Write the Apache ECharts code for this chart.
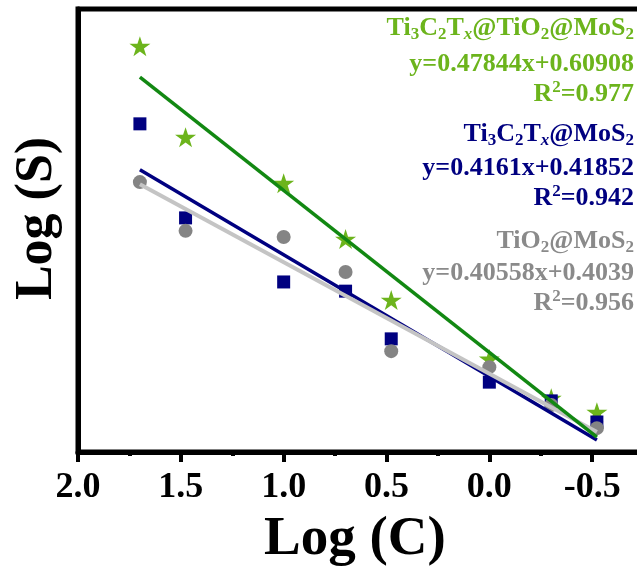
<!DOCTYPE html>
<html>
<head>
<meta charset="utf-8">
<script src="https://cdn.jsdelivr.net/npm/echarts@6/dist/echarts.min.js"></script>
<style>
html,body{margin:0;padding:0;background:#fff;}
#chart{width:637px;height:569px;}
</style>
</head>
<body>
<div id="chart"></div>
<script>
// Log(C) positions of the measured concentrations
const logC = [1.699, 1.477, 1.0, 0.699, 0.477, 0.0, -0.301, -0.523];
// Log(S) values
const tmmS = [1.491, 1.224, 1.089, 0.925, 0.746, 0.573, 0.458, 0.417]; // Ti3C2Tx@TiO2@MoS2
const tmS  = [1.263, 0.987, 0.799, 0.772, 0.632, 0.505, 0.450, 0.388]; // Ti3C2Tx@MoS2
const tS   = [1.092, 0.949, 0.931, 0.828, 0.596, 0.549, 0.438, 0.370]; // TiO2@MoS2
// Fitted line end points
const fitX   = [1.699, -0.523];
const tmmFit = [1.400, 0.344];
const tmFit  = [1.128, 0.335];
const tFit   = [1.086, 0.359];
// Tick labels
const xTickLabels = ['2.0', '1.5', '1.0', '0.5', '0.0', '-0.5', '-1.0'];
// Annotation texts
const tmmText = ['{m|Ti}{s|3}{m|C}{s|2}{m|T}{si|x}{m|@TiO}{s|2}{m|@MoS}{s|2}', '{m|y=0.47844x+0.60908}', '{m|R}{p|2}{m|=0.977}'];
const tmText  = ['{m|Ti}{s|3}{m|C}{s|2}{m|T}{si|x}{m|@MoS}{s|2}', '{m|y=0.4161x+0.41852}', '{m|R}{p|2}{m|=0.942}'];
const tText   = ['{m|TiO}{s|2}{m|@MoS}{s|2}', '{m|y=0.40558x+0.4039}', '{m|R}{p|2}{m|=0.956}'];

const SERIF = '"Liberation Serif", "Times New Roman", serif';
const cGreenPt = '#6cb41c', cGreenLn = '#128812';
const cBlue = '#000080', cGrayPt = '#848484', cGrayLn = '#c4c4c4', cGrayTxt = '#8a8a8a';
const STAR = 'path://M50,0 L61.2,34.5 L97.6,34.5 L68.2,55.9 L79.4,90.5 L50,69.1 L20.6,90.5 L31.8,55.9 L2.4,34.5 L38.8,34.5 Z';

function rich(color) {
  const base = {fill: color, fontFamily: SERIF, fontWeight: 'bold'};
  return {
    m: Object.assign({fontSize: 26, lineHeight: 30}, base),
    s: Object.assign({fontSize: 17, lineHeight: 18, verticalAlign: 'bottom'}, base),
    si: Object.assign({fontSize: 17, lineHeight: 18, verticalAlign: 'bottom', fontStyle: 'italic'}, base),
    p: Object.assign({fontSize: 17, lineHeight: 18, verticalAlign: 'top'}, base)
  };
}
function txt(text, y, color) {
  return {type: 'text', x: 634, y: y, z: 100,
    style: {text: text, rich: rich(color), align: 'right', verticalAlign: 'middle', fill: color,
      fontFamily: SERIF, fontWeight: 'bold', fontSize: 26}};
}
const textYs = [[28, 64, 94], [134, 168, 198], [241, 273, 303]];
const graphics = [];
tmmText.forEach((t, i) => graphics.push(txt(t, textYs[0][i], cGreenPt)));
tmText.forEach((t, i) => graphics.push(txt(t, textYs[1][i], cBlue)));
tText.forEach((t, i) => graphics.push(txt(t, textYs[2][i], cGrayTxt)));

const pairs = (xs, ys) => xs.map((x, i) => [x, ys[i]]);

const chart = echarts.init(document.getElementById('chart'), null, {renderer: 'canvas'});
chart.setOption({
  animation: false,
  backgroundColor: '#fff',
  grid: {left: 78, right: -58, top: 9, bottom: 117, containLabel: false, outerBoundsMode: 'none',
    show: true, borderColor: '#000', borderWidth: 5},
  xAxis: {
    type: 'value', inverse: true, min: -1.0, max: 2.0, interval: 0.5,
    name: 'Log (C)', nameLocation: 'middle', nameGap: 60, nameMoveOverlap: false,
    nameTextStyle: {fontFamily: SERIF, fontWeight: 'bold', fontSize: 55, color: '#000', padding: [0, 63, 0, 0]},
    axisLine: {show: true, onZero: false, lineStyle: {color: '#000', width: 5}},
    axisTick: {show: true, inside: false, length: 10, lineStyle: {color: '#000', width: 4}},
    minorTick: {show: true, splitNumber: 2, length: 4, lineStyle: {color: '#000', width: 4}},
    axisLabel: {show: true, margin: 18, fontFamily: SERIF, fontWeight: 'bold', fontSize: 36, color: '#000',
      formatter: v => xTickLabels[Math.round((2 - v) / 0.5)]},
    splitLine: {show: false}
  },
  yAxis: {
    type: 'value', min: 0.3, max: 1.6,
    name: 'Log (S)', nameLocation: 'middle', nameGap: 14, nameRotate: 90, nameMoveOverlap: false,
    nameTextStyle: {fontFamily: SERIF, fontWeight: 'bold', fontSize: 52, color: '#000', padding: [0, 0, 0, 24]},
    axisLine: {show: true, onZero: false, lineStyle: {color: '#000', width: 5}},
    axisTick: {show: false}, axisLabel: {show: false}, splitLine: {show: false}
  },
  graphic: graphics,
  series: [
    {type: 'scatter', name: 'Ti3C2Tx@TiO2@MoS2', data: pairs(logC, tmmS), symbol: STAR, symbolSize: [21, 20],
      itemStyle: {color: cGreenPt, opacity: 1}},
    {type: 'scatter', name: 'Ti3C2Tx@MoS2', data: pairs(logC, tmS), symbol: 'rect', symbolSize: 13,
      itemStyle: {color: cBlue, opacity: 1}},
    {type: 'scatter', name: 'TiO2@MoS2', data: pairs(logC, tS), symbol: 'circle', symbolSize: 14,
      itemStyle: {color: cGrayPt, opacity: 1}},
    {type: 'line', data: pairs(fitX, tmFit), symbol: 'none', lineStyle: {color: cBlue, width: 3.5}},
    {type: 'line', data: pairs(fitX, tFit), symbol: 'none', lineStyle: {color: cGrayLn, width: 4}},
    {type: 'line', data: pairs(fitX, tmmFit), symbol: 'none', lineStyle: {color: cGreenLn, width: 3.5}}
  ]
});
</script>
</body>
</html>
